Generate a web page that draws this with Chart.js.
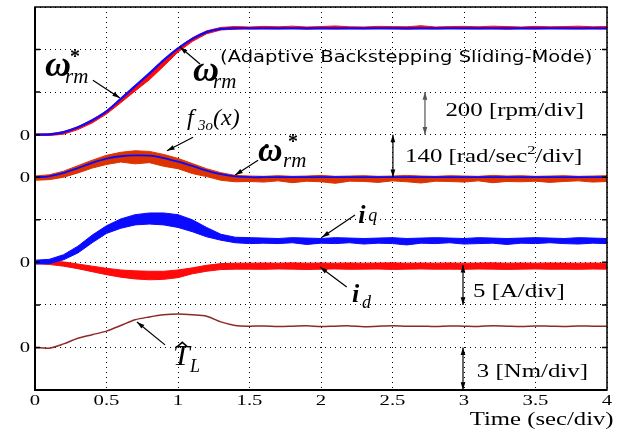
<!DOCTYPE html>
<html>
<head>
<meta charset="utf-8">
<script src="https://cdn.jsdelivr.net/npm/chart.js@4.4.1/dist/chart.umd.min.js"></script>
<style>
html, body { margin: 0; padding: 0; background: #fff; }
#wrap { width: 621px; height: 433px; position: relative; }
</style>
</head>
<body>
<div id="wrap"><canvas id="myChart" width="621" height="433"></canvas></div>
<script>
// time base (s), one sample every 0.1 s
const time = [0,0.1,0.2,0.3,0.4,0.5,0.6,0.7,0.8,0.9,1.0,1.1,1.2,1.3,1.4,1.5,1.6,1.7,1.8,1.9,2.0,
  2.1,2.2,2.3,2.4,2.5,2.6,2.7,2.8,2.9,3.0,3.1,3.2,3.3,3.4,3.5,3.6,3.7,3.8,3.9,4.0];
const xTicks = [0,0.5,1,1.5,2,2.5,3,3.5,4];

// speed command and measured speed band (rpm)
const speedRef = [0,1,12,35,68,110,168,228,288,350,405,450,482,497,500,500,500,500,500,500,500,
  500,500,500,500,500,500,500,500,500,500,500,500,500,500,500,500,500,500,500,500];
const speedUp = [3,4,14,37,70,112,170,230,290,352,408,455,488,504,508,506,509,507,510,506,508,
  511,507,506,509,508,507,512,506,508,509,507,510,508,506,509,507,508,510,507,508];
const speedLo = [-3,-4,2,24,55,97,150,205,258,322,388,438,474,492,496,497,498,497,499,496,498,
  497,498,497,499,498,496,498,497,499,498,497,498,496,498,497,499,498,497,498,497];

// acceleration command and f3o(x) band (rad/s^2)
const accelRef = [0,3,14,30,47,61,69,72,71,63,51,37,22,10,3,0,0,0,0,0,0,
  0,0,0,0,0,0,0,0,0,0,0,0,0,0,0,0,0,0,0,0];
const f3oUp = [4,8,20,38,56,72,82,87,85,75,62,45,28,15,6,4,3,5,3,4,6,
  3,4,5,3,4,6,4,3,5,4,3,6,4,5,3,4,5,3,4,5];
const f3oLo = [-10,-8,0,14,30,42,50,44,48,36,28,12,2,-10,-15,-14,-16,-12,-18,-13,-15,
  -20,-13,-14,-17,-12,-15,-19,-13,-14,-16,-12,-18,-14,-15,-13,-17,-14,-12,-16,-14];

// q- and d-axis currents (A)
const iqUp = [0.25,0.35,0.9,1.9,3.2,4.3,5.1,5.6,5.8,5.8,5.6,5.0,4.1,3.3,2.95,2.9,2.85,2.8,2.9,2.85,2.8,
  2.9,2.85,2.8,2.85,2.9,2.8,2.85,2.9,2.85,2.8,2.9,2.85,2.8,2.85,2.9,2.85,2.8,2.9,2.85,2.8];
const iqLo = [-0.2,-0.15,0.3,1.1,2.3,3.4,4.0,4.4,4.5,4.4,4.1,3.6,3.0,2.6,2.3,2.2,2.25,2.2,2.3,2.1,2.25,
  2.2,2.3,2.15,2.25,2.2,2.05,2.25,2.2,2.3,2.15,2.2,2.25,2.1,2.25,2.2,2.3,2.2,2.15,2.25,2.2];
const idUp = [0.15,0.15,0.05,-0.2,-0.45,-0.7,-0.9,-1.0,-1.05,-1.05,-0.9,-0.65,-0.35,-0.15,-0.1,-0.1,-0.08,-0.1,-0.06,-0.1,-0.08,
  -0.1,-0.07,-0.1,-0.08,-0.06,-0.1,-0.08,-0.1,-0.07,-0.1,-0.08,-0.06,-0.1,-0.08,-0.1,-0.07,-0.09,-0.1,-0.08,-0.1];
const idLo = [-0.15,-0.25,-0.45,-0.75,-1.1,-1.45,-1.75,-1.95,-2.05,-2.0,-1.8,-1.35,-1.05,-0.85,-0.8,-0.8,-0.82,-0.78,-0.8,-0.84,-0.8,
  -0.78,-0.82,-0.8,-0.79,-0.83,-0.8,-0.78,-0.81,-0.8,-0.82,-0.79,-0.8,-0.83,-0.8,-0.78,-0.81,-0.8,-0.82,-0.79,-0.8];

// estimated load torque (Nm)
const torque = [0,-0.05,0.25,0.65,0.9,1.15,1.55,1.95,2.15,2.3,2.35,2.3,2.2,1.8,1.55,1.5,1.52,1.48,1.5,1.53,1.47,
  1.5,1.52,1.46,1.5,1.53,1.49,1.5,1.47,1.52,1.5,1.48,1.53,1.5,1.47,1.51,1.5,1.48,1.52,1.5,1.49];

// scope settings: units per division and zero row of each trace
const speedDiv = 200, speedZero = 6;
const accelDiv = 140, accelZero = 5;
const currDiv = 5, currZero = 3;
const torqueDiv = 3, torqueZero = 1;
const zeroRows = [speedZero, accelZero, currZero, torqueZero];

const toDiv = (arr, perDiv, zero) => arr.map((v, i) => ({ x: time[i], y: v / perDiv + zero }));

const BLUE = '#0a0aff', RED = '#ff0a0a', ORANGE = '#dd3300', BROWN = '#8c2a2a';
const SERIF = '"Liberation Serif", "DejaVu Serif", serif';
const STRETCH = 1.38; // the scope print is wider than tall

function line(data, color, width) {
    return { data: data, borderColor: color, borderWidth: width, pointRadius: 0, fill: false, tension: 0.3 };
}
function band(data, color, fillTo) {
    return { data: data, borderColor: color, backgroundColor: color, borderWidth: 1, pointRadius: 0, fill: fillTo, tension: 0 };
}

function arrow(ctx, x1, y1, x2, y2, both, color) {
    const head = (xa, ya, xb, yb) => {
        const a = Math.atan2(yb - ya, xb - xa);
        ctx.beginPath();
        ctx.moveTo(xb, yb);
        ctx.lineTo(xb - 8 * Math.cos(a - 0.3), yb - 8 * Math.sin(a - 0.3));
        ctx.lineTo(xb - 8 * Math.cos(a + 0.3), yb - 8 * Math.sin(a + 0.3));
        ctx.closePath();
        ctx.fill();
    };
    ctx.strokeStyle = color; ctx.fillStyle = color; ctx.lineWidth = 1.2;
    ctx.beginPath(); ctx.moveTo(x1, y1); ctx.lineTo(x2, y2); ctx.stroke();
    head(x1, y1, x2, y2);
    if (both) head(x2, y2, x1, y1);
}

function txt(ctx, s, x, y, font) {
    ctx.font = font;
    ctx.fillStyle = '#000';
    ctx.textBaseline = 'alphabetic';
    ctx.textAlign = 'left';
    ctx.fillText(s, x, y);
}

// runs of text drawn one after another, stretched sideways by sx
function runs(ctx, parts, x, y, sx, align) {
    ctx.save();
    ctx.fillStyle = '#000';
    ctx.textBaseline = 'alphabetic';
    ctx.textAlign = 'left';
    let w = 0;
    parts.forEach(p => { ctx.font = p.font; w += ctx.measureText(p.s).width; });
    let x0 = x;
    if (align === 'center') x0 = x - w * sx / 2;
    if (align === 'right') x0 = x - w * sx;
    ctx.translate(x0, y);
    ctx.scale(sx, 1);
    let cx = 0;
    parts.forEach(p => {
        ctx.font = p.font;
        ctx.fillText(p.s, cx, p.dy || 0);
        cx += ctx.measureText(p.s).width;
    });
    ctx.restore();
}

const scopePlugin = {
    id: 'scope',
    afterDraw(chart) {
        const ctx = chart.ctx;
        const a = chart.chartArea;
        const xs = chart.scales.x, ys = chart.scales.y;
        const X = t => xs.getPixelForValue(t), Y = d => ys.getPixelForValue(d);
        ctx.save();
        // frame
        ctx.strokeStyle = '#000';
        ctx.lineWidth = 1.5;
        ctx.strokeRect(a.left, a.top, a.right - a.left, a.bottom - a.top);
        ctx.lineWidth = 2;
        ctx.beginPath();
        ctx.moveTo(a.left, a.top); ctx.lineTo(a.left, a.bottom); ctx.lineTo(a.right, a.bottom);
        ctx.stroke();
        // inward ticks on both sides
        ctx.lineWidth = 1.5;
        for (let d = 1; d < 9; d++) {
            ctx.beginPath();
            ctx.moveTo(a.left, Y(d)); ctx.lineTo(a.left + 5, Y(d));
            ctx.moveTo(a.right, Y(d)); ctx.lineTo(a.right - 5, Y(d));
            ctx.stroke();
        }
        // tick labels
        const tickFont = '15px ' + SERIF;
        xTicks.forEach(v => runs(ctx, [{ s: String(v), font: tickFont }], X(v), a.bottom + 15, STRETCH, 'center'));
        zeroRows.forEach(r => runs(ctx, [{ s: '0', font: tickFont }], a.left - 5, Y(r) + 5, STRETCH, 'right'));

        // omega*_rm
        txt(ctx, 'ω', X(0.07), Y(7.38), 'italic bold 36px ' + SERIF);
        txt(ctx, 'rm', X(0.21), Y(7.22), 'italic 21px ' + SERIF);
        txt(ctx, '*', X(0.245), Y(7.68), 'bold 20px ' + SERIF);
        arrow(ctx, X(0.405), Y(7.28), X(0.594), Y(6.86), false, '#000');
        // omega_rm
        txt(ctx, 'ω', X(1.105), Y(7.26), 'italic bold 36px ' + SERIF);
        txt(ctx, 'rm', X(1.245), Y(7.10), 'italic 21px ' + SERIF);
        arrow(ctx, X(1.154), Y(7.66), X(1.014), Y(8.06), false, '#000');
        // controller name
        runs(ctx, [{ s: '(Adaptive Backstepping Sliding-Mode)', font: '16px "DejaVu Sans", sans-serif' }],
            X(1.294), Y(7.85) + 6, 1.22, 'left');
        // f3o(x)
        txt(ctx, 'f', X(1.063), Y(6.23), 'italic 24px ' + SERIF);
        txt(ctx, '3o', X(1.14), Y(6.11), 'italic 15px ' + SERIF);
        txt(ctx, '(x)', X(1.245), Y(6.23), 'italic 24px ' + SERIF);
        arrow(ctx, X(1.105), Y(5.94), X(0.923), Y(5.62), false, '#000');
        // omega-dot*_rm
        txt(ctx, 'ω', X(1.56), Y(5.38), 'italic bold 34px ' + SERIF);
        ctx.beginPath(); ctx.arc(X(1.62), Y(5.73), 2.2, 0, Math.PI * 2); ctx.fill();
        txt(ctx, 'rm', X(1.734), Y(5.24), 'italic 21px ' + SERIF);
        txt(ctx, '*', X(1.77), Y(5.68), 'bold 20px ' + SERIF);
        arrow(ctx, X(1.56), Y(5.40), X(1.40), Y(5.05), false, '#000');
        // scale notes
        const noteFont = '18px ' + SERIF;
        runs(ctx, [{ s: '200 [rpm/div]', font: noteFont }], X(2.87), Y(6.43), STRETCH, 'left');
        arrow(ctx, X(2.727), Y(7), X(2.727), Y(6), true, '#555');
        runs(ctx, [{ s: '140 [rad/sec', font: noteFont }, { s: '2', font: '12px ' + SERIF, dy: -8 },
            { s: '/div]', font: noteFont }], X(2.588), Y(5.36), STRETCH, 'left');
        arrow(ctx, X(2.503), Y(6), X(2.503), Y(5), true, '#000');
        // iq, id
        txt(ctx, 'i', X(2.26), Y(3.92), 'italic bold 26px ' + SERIF);
        txt(ctx, 'q', X(2.33), Y(3.97), 'italic 18px ' + SERIF);
        arrow(ctx, X(2.238), Y(4.11), X(2.007), Y(3.59), false, '#000');
        txt(ctx, 'i', X(2.217), Y(2.07), 'italic bold 26px ' + SERIF);
        txt(ctx, 'd', X(2.287), Y(1.93), 'italic 18px ' + SERIF);
        arrow(ctx, X(2.18), Y(2.42), X(1.993), Y(2.89), false, '#000');
        runs(ctx, [{ s: '5 [A/div]', font: noteFont }], X(3.063), Y(2.18), STRETCH, 'left');
        arrow(ctx, X(2.993), Y(2.94), X(2.993), Y(2), true, '#000');
        // T_L hat
        txt(ctx, 'T', X(0.965), Y(0.59), 'italic 30px ' + SERIF);
        ctx.lineWidth = 1.5;
        ctx.beginPath();
        ctx.moveTo(X(0.995), Y(1.02)); ctx.lineTo(X(1.03), Y(1.12)); ctx.lineTo(X(1.065), Y(1.02));
        ctx.stroke();
        txt(ctx, 'L', X(1.084), Y(0.42), 'italic 18px ' + SERIF);
        arrow(ctx, X(0.909), Y(1.06), X(0.713), Y(1.6), false, '#000');
        runs(ctx, [{ s: '3 [Nm/div]', font: noteFont }], X(3.09), Y(0.3), STRETCH, 'left');
        arrow(ctx, X(2.993), Y(1), X(2.993), Y(0), true, '#000');
        // axis title
        runs(ctx, [{ s: 'Time (sec/div)', font: '19px ' + SERIF }], X(3.04), a.bottom + 35, 1.3, 'left');
        ctx.restore();
    }
};

const ctx = document.getElementById('myChart').getContext('2d');
const chart = new Chart(ctx, {
    type: 'line',
    data: {
        datasets: [
            line(toDiv(speedRef, speedDiv, speedZero), BLUE, 2.2),
            band(toDiv(speedUp, speedDiv, speedZero), RED, 2),
            band(toDiv(speedLo, speedDiv, speedZero), RED, false),
            line(toDiv(accelRef, accelDiv, accelZero), BLUE, 1.8),
            band(toDiv(f3oUp, accelDiv, accelZero), ORANGE, 5),
            band(toDiv(f3oLo, accelDiv, accelZero), ORANGE, false),
            band(toDiv(iqUp, currDiv, currZero), BLUE, 7),
            band(toDiv(iqLo, currDiv, currZero), BLUE, false),
            band(toDiv(idUp, currDiv, currZero), RED, 9),
            band(toDiv(idLo, currDiv, currZero), RED, false),
            line(toDiv(torque, torqueDiv, torqueZero), BROWN, 1.5)
        ]
    },
    options: {
        responsive: false,
        animation: false,
        layout: { padding: { top: 7, right: 14, left: 0, bottom: 0 } },
        plugins: { legend: { display: false }, tooltip: { enabled: false } },
        scales: {
            x: {
                type: 'linear', min: 0, max: 4,
                afterBuildTicks: s => { s.ticks = xTicks.map(v => ({ value: v })); },
                afterFit: s => { s.height = 43; s.paddingLeft = 0; s.paddingRight = 0; },
                ticks: { display: false },
                grid: { color: '#000', lineWidth: 1, drawTicks: false },
                border: { display: false, dash: [1, 4] }
            },
            y: {
                min: 0, max: 9,
                afterFit: s => { s.width = 35; s.paddingTop = 0; s.paddingBottom = 0; },
                ticks: { stepSize: 1, display: false },
                grid: { color: '#000', lineWidth: 1, drawTicks: false },
                border: { display: false, dash: [1, 4] }
            }
        }
    },
    plugins: [scopePlugin]
});
</script>
</body>
</html>
